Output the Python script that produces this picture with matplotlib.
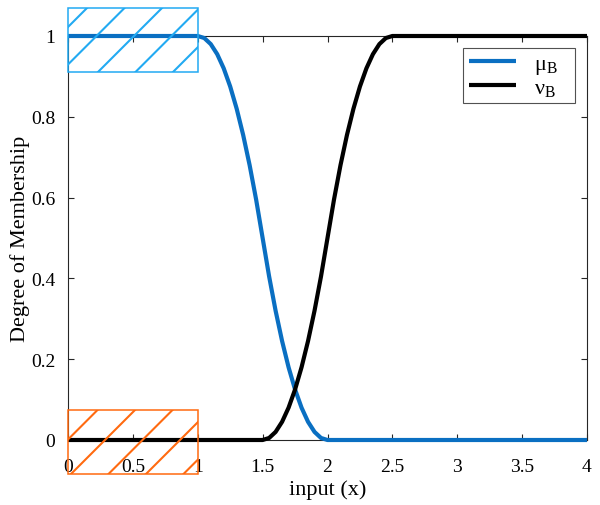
import matplotlib
matplotlib.use("Agg")
import matplotlib.pyplot as plt
from matplotlib.patches import Rectangle
from matplotlib.lines import Line2D
from matplotlib.transforms import IdentityTransform
import numpy as np

# ---- data ----
mu_x = [0.0, 1.00, 1.05, 1.10, 1.15, 1.20, 1.25, 1.30, 1.35, 1.40, 1.45, 1.50,
        1.55, 1.60, 1.65, 1.70, 1.75, 1.80, 1.85, 1.90, 1.95, 2.00, 4.0]
mu_y = [1.0, 1.0, 0.995, 0.98, 0.955, 0.92, 0.875, 0.82, 0.755, 0.68, 0.595, 0.5,
        0.405, 0.32, 0.245, 0.18, 0.125, 0.08, 0.045, 0.02, 0.005, 0.0, 0.0]
nu_x = [0.0, 1.50, 1.55, 1.60, 1.65, 1.70, 1.75, 1.80, 1.85, 1.90, 1.95, 2.00,
        2.05, 2.10, 2.15, 2.20, 2.25, 2.30, 2.35, 2.40, 2.45, 2.50, 4.0]
nu_y = [0.0, 0.0, 0.005, 0.02, 0.045, 0.08, 0.125, 0.18, 0.245, 0.32, 0.405, 0.5,
        0.595, 0.68, 0.755, 0.82, 0.875, 0.92, 0.955, 0.98, 0.995, 1.0, 1.0]
labels = ["μ$_\\mathregular{B}$", "ν$_\\mathregular{B}$"]
xticks = [0, 0.5, 1, 1.5, 2, 2.5, 3, 3.5, 4]
xticklabels = ["0", "0.5", "1", "1.5", "2", "2.5", "3", "3.5", "4"]
yticks = [0, 0.2, 0.4, 0.6, 0.8, 1]
yticklabels = ["0", "0.2", "0.4", "0.6", "0.8", "1"]
# highlight boxes: (x0, x1, y0, y1)
box_upper = (0.0, 1.0, 0.91, 1.07)
box_lower = (0.0, 1.0, -0.085, 0.075)

plt.rcParams['font.family'] = ['Liberation Serif', 'DejaVu Serif']
plt.rcParams['mathtext.fontset'] = 'custom'
plt.rcParams['mathtext.rm'] = 'Liberation Serif'
plt.rcParams['mathtext.it'] = 'Liberation Serif:italic'

fig = plt.figure(figsize=(6.0, 5.06), dpi=100)
ax = fig.add_axes([68/600, 1-441/506, (587-68)/600, (441-37)/506])

ax.plot(mu_x, mu_y, color='#0a6fc2', lw=3.0, label=labels[0],
        solid_capstyle='butt', zorder=3, clip_on=False)
ax.plot(nu_x, nu_y, color='black', lw=3.0, label=labels[1],
        solid_capstyle='butt', zorder=3, clip_on=False)

ax.set_xlim(0, 4)
ax.set_ylim(0, 1)
ax.set_xticks(xticks)
ax.set_xticklabels(xticklabels)
ax.set_yticks(yticks)
ax.set_yticklabels(yticklabels)
ax.tick_params(direction='in', length=4, width=0.8, colors='#262626',
               labelsize=14, top=True, right=True)
ax.tick_params(axis='x', pad=13)
ax.tick_params(axis='y', pad=9)
for lab in ax.get_xticklabels() + ax.get_yticklabels():
    lab.set_color('black')
for s in ax.spines.values():
    s.set_color('#262626')
    s.set_linewidth(0.8)

ax.set_xlabel("input (x)", fontsize=16, labelpad=3)
ax.set_ylabel("Degree of Membership", fontsize=16, labelpad=1)

leg = ax.legend(loc='upper left', bbox_to_anchor=(0.761, 0.0, 0.216, 0.97),
                mode='expand', fontsize=16,
                frameon=True, fancybox=False, edgecolor='#262626',
                handlelength=2.15, borderpad=0.25, labelspacing=0.05,
                handletextpad=0.8, borderaxespad=0.0)
leg.get_frame().set_linewidth(0.8)

# boxes with sparse hatching
def hatched_box(b, color):
    x0, x1, y0, y1 = b
    rect = Rectangle((x0, y0), x1 - x0, y1 - y0, fill=False, edgecolor=color,
                     lw=1.1, clip_on=False, zorder=5, transform=ax.transData)
    ax.add_patch(rect)
    (px0, py0) = ax.transData.transform((x0, y0))
    (px1, py1) = ax.transData.transform((x1, y1))
    spacing = 37.5
    cmin = px0 - py1 - spacing
    cmax = px1 - py0 + spacing
    k0 = int(np.floor((cmin - 2.5) / spacing))
    k1 = int(np.ceil((cmax - 2.5) / spacing))
    for k in range(k0, k1 + 1):
        c = 2.5 + k * spacing
        ys = np.array([py0 - 5, py1 + 5])
        xs = ys + c
        ln = Line2D(xs, ys, color=color, lw=1.5, transform=IdentityTransform(), zorder=5)
        ln.set_clip_path(rect)
        fig.add_artist(ln)

hatched_box(box_upper, '#22aaf2')
hatched_box(box_lower, '#ff6a10')

fig.savefig("out.png", dpi=100)
